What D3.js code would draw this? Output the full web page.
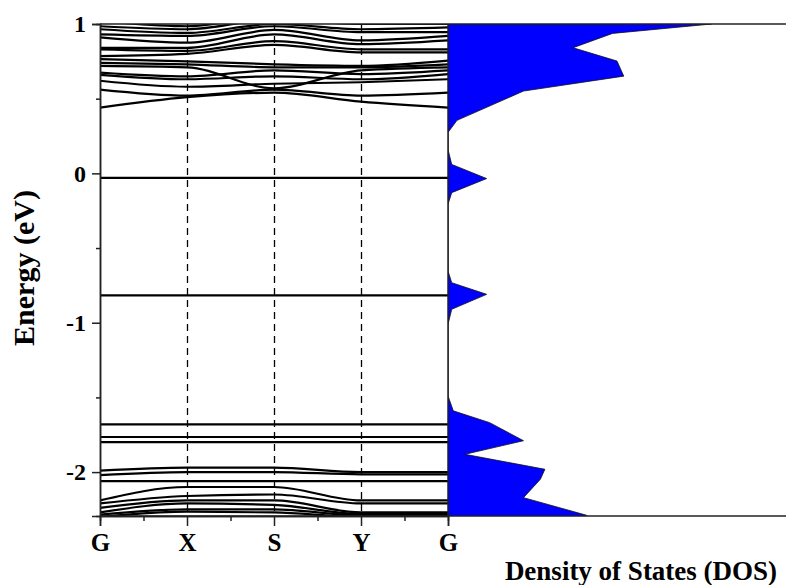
<!DOCTYPE html>
<html lang="en">
<head>
<meta charset="utf-8">
<title>Band structure and DOS</title>
<style type="text/css">
  body { margin: 0; background: #fff; }
  text { font-family: "Liberation Serif", "Times New Roman", serif; font-weight: bold; fill: #000; }
  .band { fill: none; stroke: #000; stroke-width: 2.2px; }
  .kline { stroke: #000; stroke-width: 1.3px; stroke-dasharray: 7 5; }
  .frame { stroke: #222; stroke-width: 1.5px; fill: none; }
</style>
<script type="text/javascript" src="https://cdn.jsdelivr.net/npm/d3@7"></script>
</head>
<body>
<script>
// high symmetry points of the k path
var kLabels = ["G", "X", "S", "Y", "G"];
var kPos = [0, 1, 2, 3, 4];

// energy ticks
var eTicks = [-2, -1, 0, 1];
var eMinor = [-1.5, -0.5, 0.5];

// conduction-side bands (eV) at G, X, S, Y, G
var upperBands = [
  [0.44, 0.51, 0.54, 0.48, 0.44],
  [0.56, 0.52, 0.56, 0.52, 0.54],
  [0.62, 0.58, 0.60, 0.61, 0.63],
  [0.66, 0.63, 0.65, 0.63, 0.665],
  [0.675, 0.65, 0.69, 0.665, 0.69],
  [0.72, 0.71, 0.57, 0.69, 0.71],
  [0.74, 0.73, 0.71, 0.71, 0.73],
  [0.765, 0.75, 0.73, 0.72, 0.755],
  [0.785, 0.80, 0.86, 0.81, 0.81],
  [0.83, 0.82, 0.885, 0.83, 0.83],
  [0.84, 0.84, 0.93, 0.865, 0.89],
  [0.91, 0.875, 0.96, 0.89, 0.92],
  [0.93, 0.92, 0.985, 0.945, 0.945],
  [0.965, 0.94, 1.0, 0.965, 0.977],
  [0.985, 0.965, 1.03, 1.0, 1.0],
  [1.02, 0.985, 1.05, 1.03, 1.03]
];

// flat defect levels (eV)
var flatBands = [
  [-0.03, -0.03, -0.03, -0.03, -0.03],
  [-0.817, -0.817, -0.817, -0.817, -0.817],
  [-1.68, -1.68, -1.68, -1.68, -1.68],
  [-1.765, -1.765, -1.765, -1.765, -1.765],
  [-1.80, -1.80, -1.80, -1.80, -1.80]
];

// valence-side bands (eV) at G, X, S, Y, G
var lowerBands = [
  [-1.99, -1.97, -1.97, -2.00, -2.00],
  [-2.02, -2.00, -2.00, -2.015, -2.015],
  [-2.06, -2.06, -2.06, -2.06, -2.06],
  [-2.19, -2.10, -2.10, -2.19, -2.19],
  [-2.21, -2.16, -2.15, -2.21, -2.21],
  [-2.24, -2.19, -2.19, -2.27, -2.27],
  [-2.27, -2.21, -2.22, -2.28, -2.28],
  [-2.285, -2.25, -2.25, -2.29, -2.29],
  [-2.30, -2.265, -2.27, -2.30, -2.30]
];

// density of states
var dosEnergy = [1.0, 0.937, 0.841, 0.752, 0.651, 0.551, 0.355, 0.274, 0.16, 0.06, -0.035, -0.129, -0.207,
  -0.654, -0.732, -0.81, -0.91, -1.01, -1.49, -1.59, -1.669, -1.79, -1.881, -1.981, -2.048, -2.171, -2.289, -2.3];
var dosValue = [23.4, 14.6, 11.1, 15.0, 15.6, 6.7, 0.8, 0, 0, 0.33, 3.43, 0.33, 0,
  0, 0.33, 3.43, 0.33, 0, 0, 0.47, 3.7, 6.7, 1.5, 8.6, 8.2, 6.7, 12.3, 12.3];

var w = 786, h = 585;
var xLeft = 100, xMid = 448, xRight = 786, yTop = 24, yBottom = 516;

var svg = d3.select("body").append("svg")
  .attr("width", w)
  .attr("height", h);

var xScale = d3.scaleLinear().domain([0, 4]).range([xLeft, xMid]);
var yScale = d3.scaleLinear().domain([-2.294, 1]).range([yBottom, yTop]);
var dScale = d3.scaleLinear().domain([0, 30]).range([xMid, xRight]);

svg.append("clipPath").attr("id", "bandclip")
  .append("rect").attr("x", xLeft).attr("y", yTop).attr("width", xMid - xLeft).attr("height", yBottom - yTop);
svg.append("clipPath").attr("id", "dosclip")
  .append("rect").attr("x", xMid).attr("y", yTop).attr("width", xRight - xMid).attr("height", yBottom - yTop);

// dashed lines at X, S, Y
svg.selectAll("line.kline")
  .data(kPos.slice(1, 4))
  .enter().append("line")
  .attr("class", "kline")
  .attr("x1", function(d) { return Math.round(xScale(d)) + 0.5; })
  .attr("x2", function(d) { return Math.round(xScale(d)) + 0.5; })
  .attr("y1", yTop)
  .attr("y2", yBottom);

var line = d3.line()
  .x(function(d, i) { return xScale(kPos[i]); })
  .y(function(d) { return yScale(d); })
  .curve(d3.curveMonotoneX);

var allBands = upperBands.concat(flatBands, lowerBands);
svg.append("g").attr("clip-path", "url(#bandclip)")
  .selectAll("path")
  .data(allBands)
  .enter().append("path")
  .attr("class", "band")
  .attr("d", line);

// DOS area
var dosData = dosEnergy.map(function(e, i) { return [e, dosValue[i]]; });
var area = d3.area()
  .y(function(d) { return yScale(d[0]); })
  .x0(dScale(0))
  .x1(function(d) { return dScale(d[1]); });
svg.append("path")
  .datum(dosData)
  .attr("clip-path", "url(#dosclip)")
  .attr("d", area)
  .attr("fill", "#0000ff")
  .attr("stroke", "#111")
  .attr("stroke-width", 0.8);

// frame
svg.append("line").attr("class", "frame").attr("x1", xLeft).attr("x2", xRight).attr("y1", yTop).attr("y2", yTop);
svg.append("line").attr("class", "frame").attr("x1", xLeft).attr("x2", xRight).attr("y1", yBottom).attr("y2", yBottom);
svg.append("line").attr("class", "frame").attr("x1", xMid).attr("x2", xMid).attr("y1", yTop).attr("y2", yBottom);

// y axis
var yAxis = svg.append("g")
  .attr("transform", "translate(" + xLeft + ",0)")
  .call(d3.axisLeft(yScale).tickValues(eTicks).tickSize(8).tickPadding(6)
    .tickFormat(function(d) { return String(d); }));
svg.append("g")
  .attr("transform", "translate(" + xLeft + ",0)")
  .call(d3.axisLeft(yScale).tickValues(eMinor).tickSize(4).tickFormat(""));

// x axis
var xAxis = svg.append("g")
  .attr("transform", "translate(0," + yBottom + ")")
  .call(d3.axisBottom(xScale).tickValues(kPos).tickSize(10).tickPadding(7)
    .tickFormat(function(d, i) { return kLabels[i]; }));
svg.append("g")
  .attr("transform", "translate(0," + yBottom + ")")
  .call(d3.axisBottom(xScale).tickValues([0.5, 1.5, 2.5, 3.5]).tickSize(5).tickFormat(""));

svg.selectAll(".domain").attr("stroke", "#222").attr("stroke-width", 1.5);
svg.selectAll(".tick line").attr("stroke", "#222").attr("stroke-width", 1.5);
yAxis.selectAll("text").attr("font-size", "24px").attr("font-family", "Liberation Serif").attr("font-weight", "bold").attr("fill", "#000");
xAxis.selectAll("text").attr("font-size", "25px").attr("font-family", "Liberation Serif").attr("font-weight", "bold").attr("fill", "#000");

// titles
svg.append("text")
  .attr("transform", "translate(34,268) rotate(-90)")
  .attr("text-anchor", "middle")
  .attr("font-size", "30px")
  .text("Energy (eV)");

svg.append("text")
  .attr("x", 641)
  .attr("y", 580)
  .attr("text-anchor", "middle")
  .attr("font-size", "27px")
  .text("Density of States (DOS)");
</script>
</body>
</html>
